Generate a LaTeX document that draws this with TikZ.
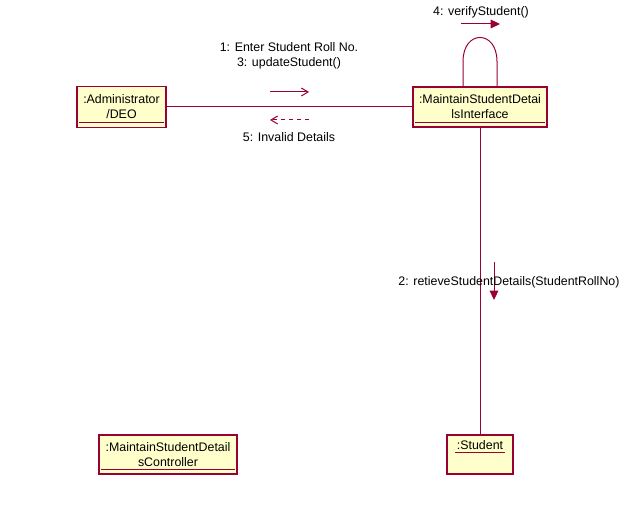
\documentclass[tikz,border=0pt]{standalone}
\usepackage{fontspec}
\setmainfont{Liberation Sans}
\usetikzlibrary{arrows.meta,calc}
\definecolor{umlred}{HTML}{990033}
\definecolor{umlfill}{HTML}{FFFFCC}
\tikzset{
  objbox/.style={draw=umlred,fill=umlfill,line width=0.8pt,inner sep=0pt,align=center,
    font=\fontsize{9.3}{11.25}\selectfont},
  ul/.style={draw=umlred,line width=0.75pt},
  link/.style={draw=umlred,line width=0.75pt},
  msgopen/.style={draw=umlred,line width=0.75pt,-{Straight Barb[length=5pt,width=6pt]}},
  msgfill/.style={draw=umlred,line width=0.75pt,-{Triangle[length=7pt,width=6.5pt]}},
  msglbl/.style={font=\fontsize{9.3}{11.25}\selectfont,align=center,inner sep=0pt}
}
\begin{document}
\begin{tikzpicture}[x=0.75pt,y=-0.75pt]
\useasboundingbox (0,0) rectangle (635,530);
% objects
\node[objbox,minimum width=89*0.75pt,minimum height=41*0.75pt] (adm) at (121.5,107) {:Administrator\\/DEO};
\node[objbox,minimum width=134*0.75pt,minimum height=40*0.75pt] (ifc) at (480,107) {:MaintainStudentDetai\\lsInterface};
\node[objbox,minimum width=138*0.75pt,minimum height=39*0.75pt] (ctl) at (168,454.5) {:MaintainStudentDetail\\sController};
\node[objbox,minimum width=66*0.75pt,minimum height=39*0.75pt] (stu) at (480,454.5) {};
\node[msglbl] (stutxt) at (480,445) {:Student};
% underlines
\draw[ul] ($(adm.south west)+(3,-6)$) -- ($(adm.south east)+(-3,-6)$);
\draw[ul] ($(ifc.south west)+(3,-5)$) -- ($(ifc.south east)+(-3,-5)$);
\draw[ul] ($(ctl.south west)+(3,-5)$) -- ($(ctl.south east)+(-3,-5)$);
\draw[ul] (455,453) -- (505,453);
% links
\draw[link] (adm) -- (ifc);
\draw[link] (ifc) -- (stu);
\draw[link] ($(ifc.north)+(-17,0)$) -- ++(0,-25) .. controls +(0,-32) and +(0,-32) .. ($(ifc.north)+(17,-25)$) -- ($(ifc.north)+(17,0)$);
% messages
\coordinate (m1a) at (270,92); \coordinate (m1b) at (309,92);
\draw[msgopen] (m1a) -- (m1b);
\node[msglbl] (l1) at (289,56) {1: Enter Student Roll No.\\3: updateStudent()};
\coordinate (m5a) at (309,120); \coordinate (m5b) at (270,120);
\draw[msgopen,dashed] (m5a) -- (m5b);
\node[msglbl] (l5) at (289,137) {5: Invalid Details};
\coordinate (m4a) at (461,24); \coordinate (m4b) at (500,24);
\draw[msgfill] (m4a) -- (m4b);
\node[msglbl] (l4) at (481,12) {4: verifyStudent()};
\coordinate (m2a) at (494,262); \coordinate (m2b) at (494,300);
\draw[msgfill] (m2a) -- (m2b);
\node[msglbl] (l2) at (509,282) {2: retieveStudentDetails(StudentRollNo)};
\end{tikzpicture}
\end{document}
